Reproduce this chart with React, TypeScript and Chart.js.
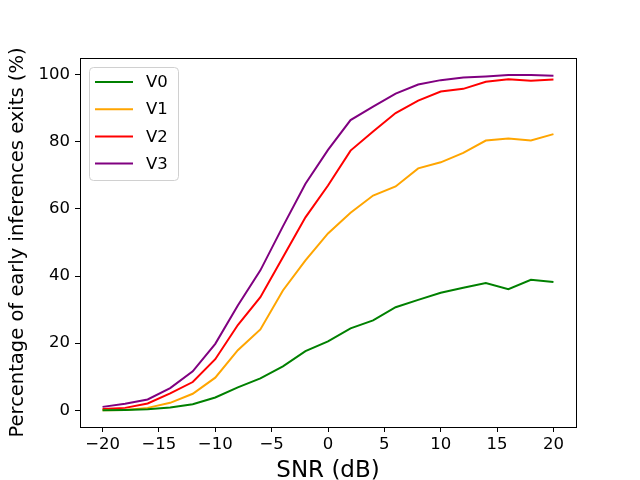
import { useEffect, useRef } from "react";
import { Chart, registerables } from "chart.js";

Chart.register(...registerables);

const snr = [-20, -18, -16, -14, -12, -10, -8, -6, -4, -2, 0, 2, 4, 6, 8, 10, 12, 14, 16, 18, 20];
const v0 = [0.0, 0.1, 0.3, 0.8, 1.8, 3.8, 6.8, 9.5, 13.1, 17.6, 20.5, 24.4, 26.8, 30.7, 32.9, 35.0, 36.5, 37.9, 36.1, 38.9, 38.2];
const v1 = [0.0, 0.1, 0.7, 2.2, 4.9, 9.7, 17.9, 24.1, 35.7, 44.7, 52.7, 58.9, 64.0, 66.7, 72.1, 73.9, 76.7, 80.4, 81.0, 80.4, 82.3];
const v2 = [0.4, 0.7, 2.0, 5.0, 8.4, 15.2, 25.4, 33.7, 45.6, 57.5, 67.0, 77.4, 83.1, 88.6, 92.3, 95.0, 95.8, 97.9, 98.7, 98.2, 98.6];
const v3 = [1.0, 1.9, 3.2, 6.6, 11.6, 19.8, 31.2, 41.7, 54.8, 67.5, 77.6, 86.5, 90.5, 94.4, 97.1, 98.4, 99.2, 99.5, 99.9, 99.9, 99.7];
const seriesNames = ["V0", "V1", "V2", "V3"];
const seriesColors = ["#008000", "#ffa500", "#ff0000", "#800080"];
const xTicks = [-20, -15, -10, -5, 0, 5, 10, 15, 20];
const yTicks = [0, 20, 40, 60, 80, 100];

const FONT = "'DejaVu Sans', sans-serif";

const minus = (v: any) => String(v).replace("-", "\u2212");

// box round the plot, like matplotlib's spines
const frame = {
  id: "frame",
  afterDraw(chart: any) {
    const { ctx, chartArea: a } = chart;
    ctx.save();
    ctx.strokeStyle = "#000";
    ctx.lineWidth = 1;
    ctx.strokeRect(a.left + 0.5, a.top + 0.5, a.right - a.left, a.bottom - a.top);
    ctx.restore();
  },
};

// legend drawn inside the plot, upper left
const innerLegend = {
  id: "innerLegend",
  afterDraw(chart: any) {
    const { ctx, chartArea: a } = chart;
    const x = a.left + 9;
    const y = a.top + 9;
    const w = 89;
    const h = 113;
    ctx.save();
    ctx.beginPath();
    ctx.roundRect(x + 0.5, y + 0.5, w, h, 4);
    ctx.fillStyle = "rgba(255,255,255,0.8)";
    ctx.fill();
    ctx.strokeStyle = "#d0d0d0";
    ctx.lineWidth = 1;
    ctx.stroke();
    ctx.font = `16.5px ${FONT}`;
    ctx.textBaseline = "middle";
    chart.data.datasets.forEach((ds: any, i: number) => {
      const ry = y + 15 + i * 27.2;
      ctx.strokeStyle = ds.borderColor;
      ctx.lineWidth = 2;
      ctx.beginPath();
      ctx.moveTo(x + 6, ry);
      ctx.lineTo(x + 44, ry);
      ctx.stroke();
      ctx.fillStyle = "#000";
      ctx.fillText(ds.label, x + 57, ry + 1);
    });
    ctx.restore();
  },
};

const App = () => {
  const canvasRef = useRef<HTMLCanvasElement>(null);

  useEffect(() => {
    document.body.style.margin = "0";
    const all = [v0, v1, v2, v3];
    const chart = new Chart(canvasRef.current as HTMLCanvasElement, {
      type: "line",
      data: {
        datasets: all.map((vals, i) => ({
          label: seriesNames[i],
          data: snr.map((s, j) => ({ x: s, y: vals[j] })),
          borderColor: seriesColors[i],
          backgroundColor: seriesColors[i],
          borderWidth: 2,
          pointRadius: 0,
          tension: 0,
        })),
      },
      options: {
        animation: false,
        responsive: false,
        layout: { padding: { top: 58, right: 64, left: 0, bottom: 0 } },
        plugins: {
          legend: { display: false },
          tooltip: { enabled: false },
        },
        scales: {
          x: {
            type: "linear",
            min: -22,
            max: 22,
            afterBuildTicks: (s: any) => {
              s.ticks = xTicks.map((v) => ({ value: v }));
            },
            afterFit: (s: any) => {
              s.height = 53;
            },
            grid: { drawOnChartArea: false, tickLength: 5, color: "#000" },
            border: { color: "#000" },
            ticks: {
              color: "#000",
              padding: 3,
              font: { family: FONT, size: 16.5 },
              callback: (v: any) => minus(v),
            },
            title: {
              display: true,
              text: "SNR (dB)",
              color: "#000",
              padding: 0,
              font: { family: FONT, size: 23, lineHeight: 0.8 },
            },
          },
          y: {
            type: "linear",
            min: -5,
            max: 105,
            afterBuildTicks: (s: any) => {
              s.ticks = yTicks.map((v) => ({ value: v }));
            },
            afterFit: (s: any) => {
              s.width = 80;
            },
            grid: { drawOnChartArea: false, tickLength: 5, color: "#000" },
            border: { color: "#000" },
            ticks: {
              color: "#000",
              padding: 5,
              font: { family: FONT, size: 16.5 },
              callback: (v: any) => minus(v),
            },
            title: {
              display: true,
              text: "Percentage of early inferences exits (%)",
              color: "#000",
              padding: { top: 6.6, bottom: 0 },
              font: { family: FONT, size: 19.5, lineHeight: 1.2 },
            },
          },
        },
      },
      plugins: [frame, innerLegend],
    });
    return () => {
      chart.destroy();
    };
  }, []);

  return <canvas ref={canvasRef} width={640} height={480} style={{ display: "block" }} />;
};

export default App;
